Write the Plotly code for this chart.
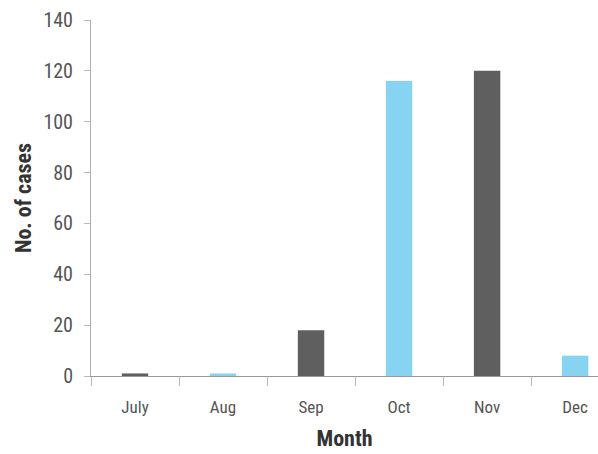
import plotly.graph_objects as go

months = ["July", "Aug", "Sep", "Oct", "Nov", "Dec"]
cases = [1, 1, 18, 116, 120, 8]
bar_colors = ["#5f5f5f", "#87d4f2", "#5f5f5f", "#87d4f2", "#5f5f5f", "#87d4f2"]
y_ticks = [0, 20, 40, 60, 80, 100, 120, 140]

narrow = "Liberation Sans Narrow, Arial Narrow, Roboto Condensed, sans-serif"

fig = go.Figure(
    go.Bar(
        x=months,
        y=cases,
        marker=dict(color=bar_colors, line=dict(width=0)),
        width=0.3,
    )
)

fig.update_layout(
    width=598,
    height=454,
    margin=dict(l=91, r=0, t=20, b=78),
    paper_bgcolor="white",
    plot_bgcolor="white",
    showlegend=False,
    font=dict(family=narrow, color="#555555"),
)

fig.update_xaxes(
    range=[-0.5, 5.26],
    showline=True,
    linecolor="#9a9a9a",
    linewidth=1,
    ticks="outside",
    tickson="boundaries",
    ticklen=9,
    tickcolor="#b8b8b8",
    tickfont=dict(size=17, color="#555555"),
    ticklabelstandoff=16,
    showgrid=False,
    zeroline=False,
    title=dict(text="<b>Month</b>", font=dict(size=22, color="#333333"), standoff=14),
)

fig.update_yaxes(
    range=[0, 140],
    tickvals=y_ticks,
    showline=True,
    linecolor="#b0b0b0",
    linewidth=1,
    ticks="outside",
    ticklen=6,
    tickcolor="#b8b8b8",
    tickfont=dict(size=20, color="#555555"),
    ticklabelstandoff=7,
    showgrid=False,
    zeroline=False,
    title=dict(text="<b>No. of cases</b>", font=dict(size=22, color="#333333"), standoff=5),
)

fig.write_html("out.html")
